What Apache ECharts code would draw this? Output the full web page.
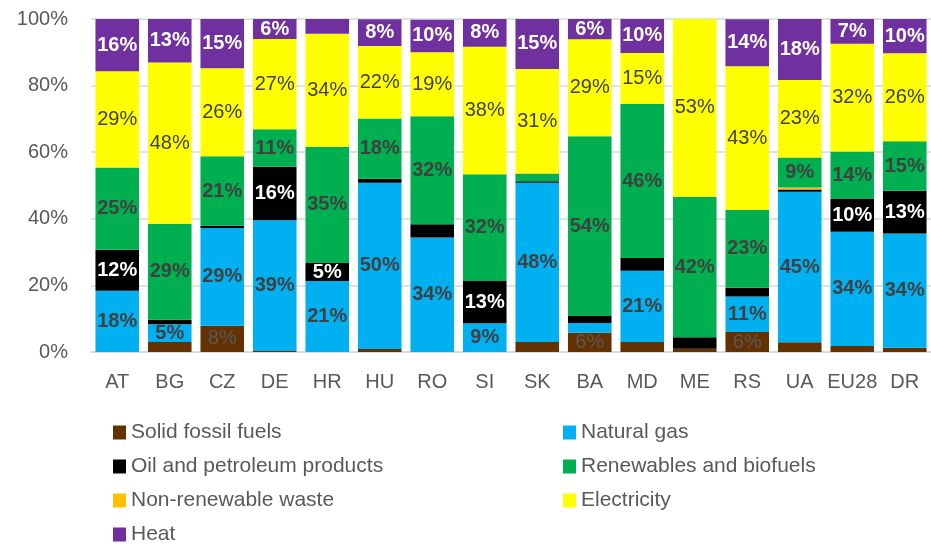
<!DOCTYPE html>
<html>
<head>
<meta charset="utf-8">
<script src="https://cdn.jsdelivr.net/npm/echarts@6/dist/echarts.min.js"></script>
<style>
  html, body { margin: 0; padding: 0; background: #fff; }
  #chart { width: 931px; height: 544px; }
</style>
</head>
<body>
<div id="chart"></div>
<script>
const categories = ['AT', 'BG', 'CZ', 'DE', 'HR', 'HU', 'RO', 'SI', 'SK', 'BA', 'MD', 'ME', 'RS', 'UA', 'EU28', 'DR']
const solidFossil = [0, 3.0, 7.9, 0.3, 0, 0.9, 0, 0, 3.0, 5.8, 3.0, 1.0, 6.0, 2.9, 1.8, 1.3]
const naturalGas = [18.4, 5.3, 29.3, 39.3, 21.3, 49.9, 34.4, 8.6, 47.8, 2.9, 21.4, 0, 10.7, 45.2, 34.3, 34.3]
const oilPetroleum = [12.3, 1.4, 0.7, 16.0, 5.4, 1.2, 4.0, 12.7, 0.5, 2.1, 3.8, 3.4, 2.6, 0.7, 10.0, 12.8]
const nonRenewWaste = [0, 0, 0, 0, 0, 0, 0, 0, 0, 0, 0, 0, 0, 0.6, 0, 0]
const renewables = [24.7, 28.8, 20.9, 11.3, 34.9, 18.1, 32.4, 32.1, 2.3, 54.0, 46.3, 42.2, 23.4, 9.0, 14.1, 14.9]
const electricity = [28.9, 48.4, 26.4, 27.1, 34.0, 21.8, 19.2, 38.3, 31.4, 29.1, 15.3, 53.4, 43.1, 23.3, 32.4, 26.4]
const heat = [15.7, 13.1, 14.8, 6.0, 4.4, 8.0, 9.8, 8.3, 15.0, 6.1, 10.2, 0, 14.1, 18.3, 7.4, 10.3]
const yTicks = [0, 20, 40, 60, 80, 100]

const font = 'Liberation Sans'

// legend order as in the reference: left column then right column
const legendLeft = ['Solid fossil fuels', 'Oil and petroleum products', 'Non-renewable waste', 'Heat']
const legendRight = ['Natural gas', 'Renewables and biofuels', 'Electricity']

const mkSeries = (name, data, color, labelColor, bold) => ({
  name,
  type: 'bar',
  stack: 'mix',
  data,
  barCategoryGap: '17%',
  itemStyle: { color },
  label: {
    show: true,
    position: 'inside',
    fontFamily: font,
    fontSize: 20,
    fontWeight: bold ? 'bold' : 'normal',
    color: labelColor,
    formatter: p => Math.round(p.value) >= 5 ? Math.round(p.value) + '%' : ''
  }
})

const mkLegend = (name, x, row) => ({
  left: x,
  top: 417 + row * 34,
  itemWidth: 13,
  itemHeight: 14,
  icon: 'rect',
  textStyle: { fontFamily: font, fontSize: 21, color: '#595959' },
  data: [name]
})

const chart = echarts.init(document.getElementById('chart'))
chart.setOption({
  animation: false,
  grid: { left: 91, right: 0, top: 19, bottom: 192 },
  legend: [
    ...legendLeft.map((n, i) => mkLegend(n, 108, i)),
    ...legendRight.map((n, i) => mkLegend(n, 558, i))
  ],
  xAxis: {
    type: 'category',
    data: categories,
    axisTick: { show: false },
    axisLine: { lineStyle: { color: '#d9d9d9', width: 1.5 } },
    axisLabel: { fontFamily: font, fontSize: 20, color: '#595959', margin: 20, interval: 0 }
  },
  yAxis: {
    type: 'value',
    min: yTicks[0],
    max: yTicks[yTicks.length - 1],
    interval: 20,
    axisLine: { show: false },
    axisTick: { show: false },
    splitLine: { lineStyle: { color: '#d9d9d9', width: 1.5 } },
    axisLabel: { fontFamily: font, fontSize: 20, color: '#595959', margin: 23, formatter: v => v + '%' }
  },
  series: [
    mkSeries('Solid fossil fuels', solidFossil, '#633200', '#595959', false),
    mkSeries('Natural gas', naturalGas, '#00B0F0', '#404040', true),
    mkSeries('Oil and petroleum products', oilPetroleum, '#000000', '#ffffff', true),
    mkSeries('Non-renewable waste', nonRenewWaste, '#FFC000', '#404040', true),
    mkSeries('Renewables and biofuels', renewables, '#00B050', '#404040', true),
    mkSeries('Electricity', electricity, '#FFFF00', '#404040', false),
    mkSeries('Heat', heat, '#7030A0', '#ffffff', true)
  ]
})
</script>
</body>
</html>
